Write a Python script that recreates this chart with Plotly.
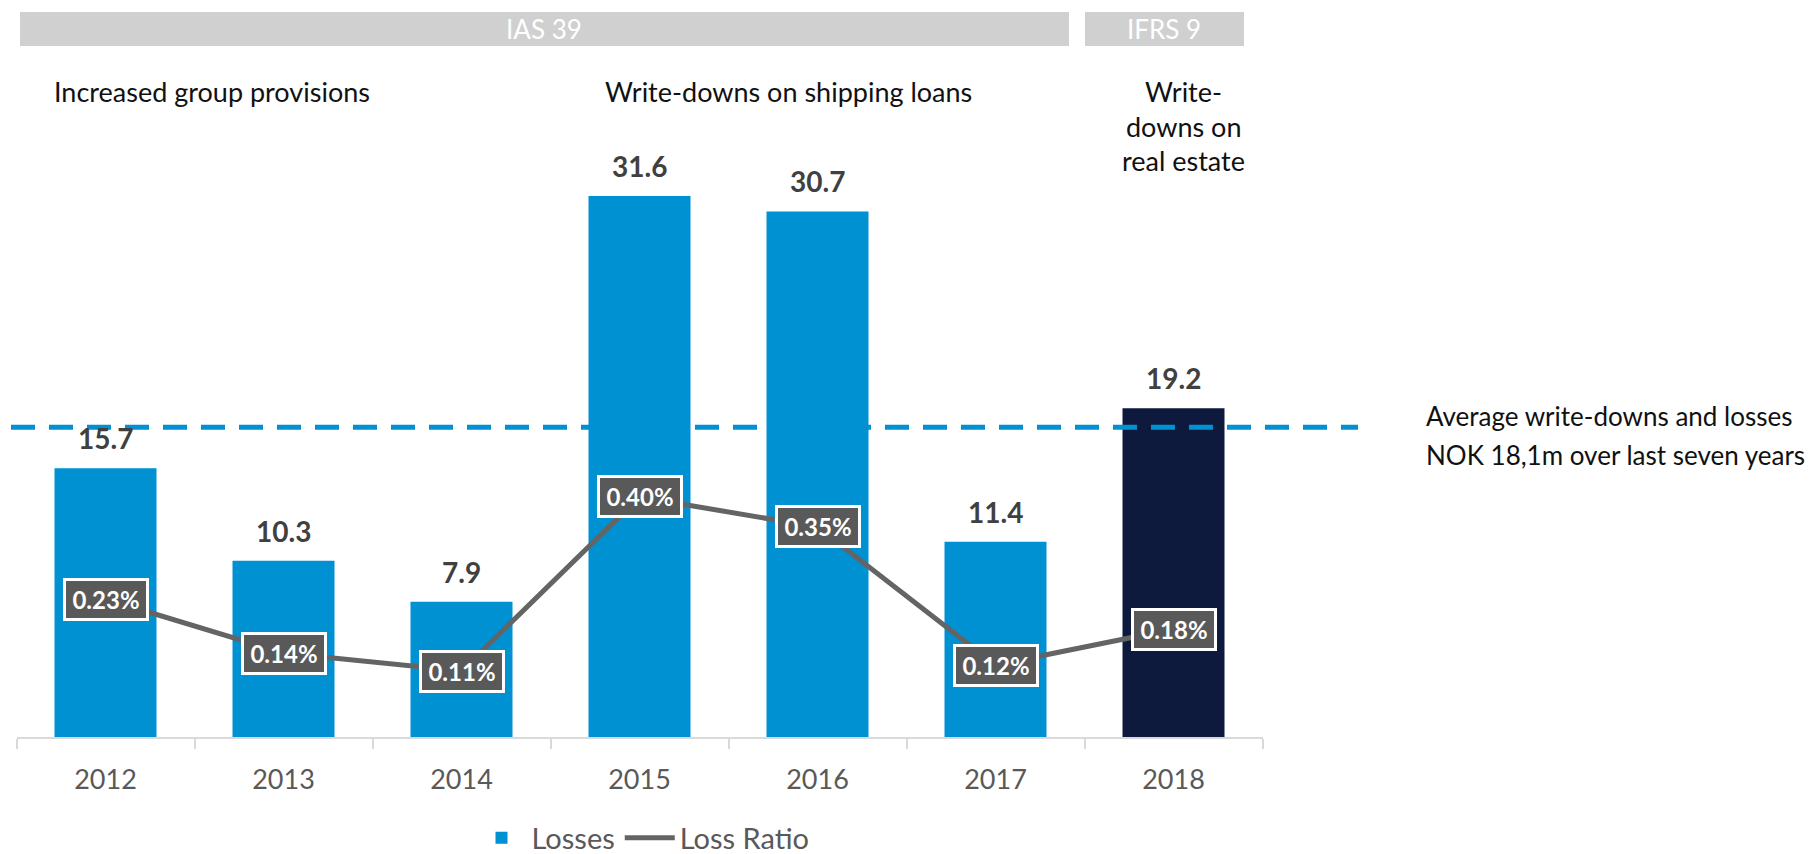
import plotly.graph_objects as go

# ---- data ----
years = ["2012", "2013", "2014", "2015", "2016", "2017", "2018"]
losses = [15.7, 10.3, 7.9, 31.6, 30.7, 11.4, 19.2]
loss_ratio = [0.23, 0.14, 0.11, 0.40, 0.35, 0.12, 0.18]  # percent
bar_colors = ["#0091D3"] * 6 + ["#0D1A3E"]
avg_losses = 18.1
avg_note = ["Average write-downs and losses", "NOK 18,1m over last seven years"]
re_note = ["Write-", "downs on", "real estate"]

W, H = 1818, 854
OFF = 8  # page body margin
FONT = "Lato"

def px_x(p):
    return (p - OFF) / W

def px_y(p):
    return (H - (p - OFF)) / H

fig = go.Figure()

fig.add_trace(go.Bar(
    x=years, y=losses, name="Losses",
    marker=dict(color=bar_colors, line=dict(width=0)),
    yaxis="y",
))

fig.add_trace(go.Scatter(
    x=years, y=loss_ratio, name="Loss Ratio",
    mode="lines", line=dict(color="#646464", width=5),
    yaxis="y2",
))

annotations = []

# value labels above bars (x as category index)
for i, v in enumerate(losses):
    annotations.append(dict(
        x=i, y=v, xref="x", yref="y", text="<b>%.1f</b>" % v,
        showarrow=False, xanchor="center", yanchor="middle", yshift=30,
        font=dict(family=FONT, size=28, color="#404040"),
    ))

# loss ratio boxes
for i, r in enumerate(loss_ratio):
    annotations.append(dict(
        x=i, y=r, xref="x", yref="y2", text="<b>%.2f%%</b>" % r,
        showarrow=False, xanchor="center", yanchor="middle",
        bgcolor="#595959", bordercolor="white", borderwidth=3, borderpad=4,
        width=72,
        font=dict(family=FONT, size=24, color="white"),
    ))

# headers
annotations += [
    dict(x=px_x(544), y=px_y(29), xref="paper", yref="paper", text="IAS 39",
         xanchor="center", yanchor="middle", showarrow=False,
         font=dict(family=FONT, size=26, color="white")),
    dict(x=px_x(1164), y=px_y(29), xref="paper", yref="paper", text="IFRS 9",
         xanchor="center", yanchor="middle", showarrow=False,
         font=dict(family=FONT, size=26, color="white")),
    dict(x=px_x(52), y=px_y(91), xref="paper", yref="paper", xanchor="left",
         yanchor="middle", text="Increased group provisions", showarrow=False,
         font=dict(family=FONT, size=27, color="#111111")),
    dict(x=px_x(788), y=px_y(91), xref="paper", yref="paper", xanchor="center",
         yanchor="middle", text="Write-downs on shipping loans", showarrow=False,
         font=dict(family=FONT, size=27, color="#111111")),
]
for k, line in enumerate(re_note):
    annotations.append(dict(
        x=px_x(1183), y=px_y(91 + 35 * k), xref="paper", yref="paper",
        xanchor="center", yanchor="middle", text=line, showarrow=False,
        font=dict(family=FONT, size=27, color="#111111")))
for k, line in enumerate(avg_note):
    annotations.append(dict(
        x=px_x(1424), y=px_y(416 + 39 * k), xref="paper", yref="paper",
        xanchor="left", yanchor="middle", text=line, showarrow=False,
        font=dict(family=FONT, size=26, color="#111111")))

shapes = [
    dict(type="rect", xref="paper", yref="paper", x0=px_x(20), x1=px_x(1069),
         y0=px_y(46), y1=px_y(12), fillcolor="#D0D0D0", line=dict(width=0),
         layer="below"),
    dict(type="rect", xref="paper", yref="paper", x0=px_x(1085), x1=px_x(1244),
         y0=px_y(46), y1=px_y(12), fillcolor="#D0D0D0", line=dict(width=0),
         layer="below"),
    dict(type="line", xref="paper", yref="y", x0=px_x(11), x1=px_x(1358),
         y0=avg_losses, y1=avg_losses, layer="above",
         line=dict(color="#0091D3", width=5, dash="24px,14px")),
]

fig.update_layout(
    width=W, height=H,
    margin=dict(l=0, r=0, t=0, b=0, autoexpand=False),
    paper_bgcolor="white", plot_bgcolor="white",
    bargap=0.427,
    showlegend=True,
    legend=dict(orientation="h", x=px_x(643), xanchor="center",
                y=px_y(838), yanchor="middle", itemwidth=50,
                font=dict(family=FONT, size=29, color="#595959")),
    xaxis=dict(domain=[px_x(16.5), px_x(1262.5)], type="category",
               categoryorder="array", categoryarray=years,
               range=[-0.5, 6.5], autorange=False, automargin=False,
               showline=True, linecolor="#D9D9D9", linewidth=2,
               ticks="outside", tickson="boundaries", ticklen=10,
               tickcolor="#D9D9D9", tickwidth=2, ticklabelstandoff=18,
               tickangle=0,
               tickfont=dict(family=FONT, size=27, color="#595959"),
               showgrid=False, zeroline=False),
    yaxis=dict(domain=[px_y(737), px_y(52.2)], range=[0, 40], autorange=False,
               visible=False, showgrid=False, zeroline=False),
    yaxis2=dict(overlaying="y", range=[0, 1.1413], autorange=False, visible=False,
                showgrid=False, zeroline=False),
    annotations=annotations,
    shapes=shapes,
    font=dict(family=FONT),
)

fig.write_html("out.html")
